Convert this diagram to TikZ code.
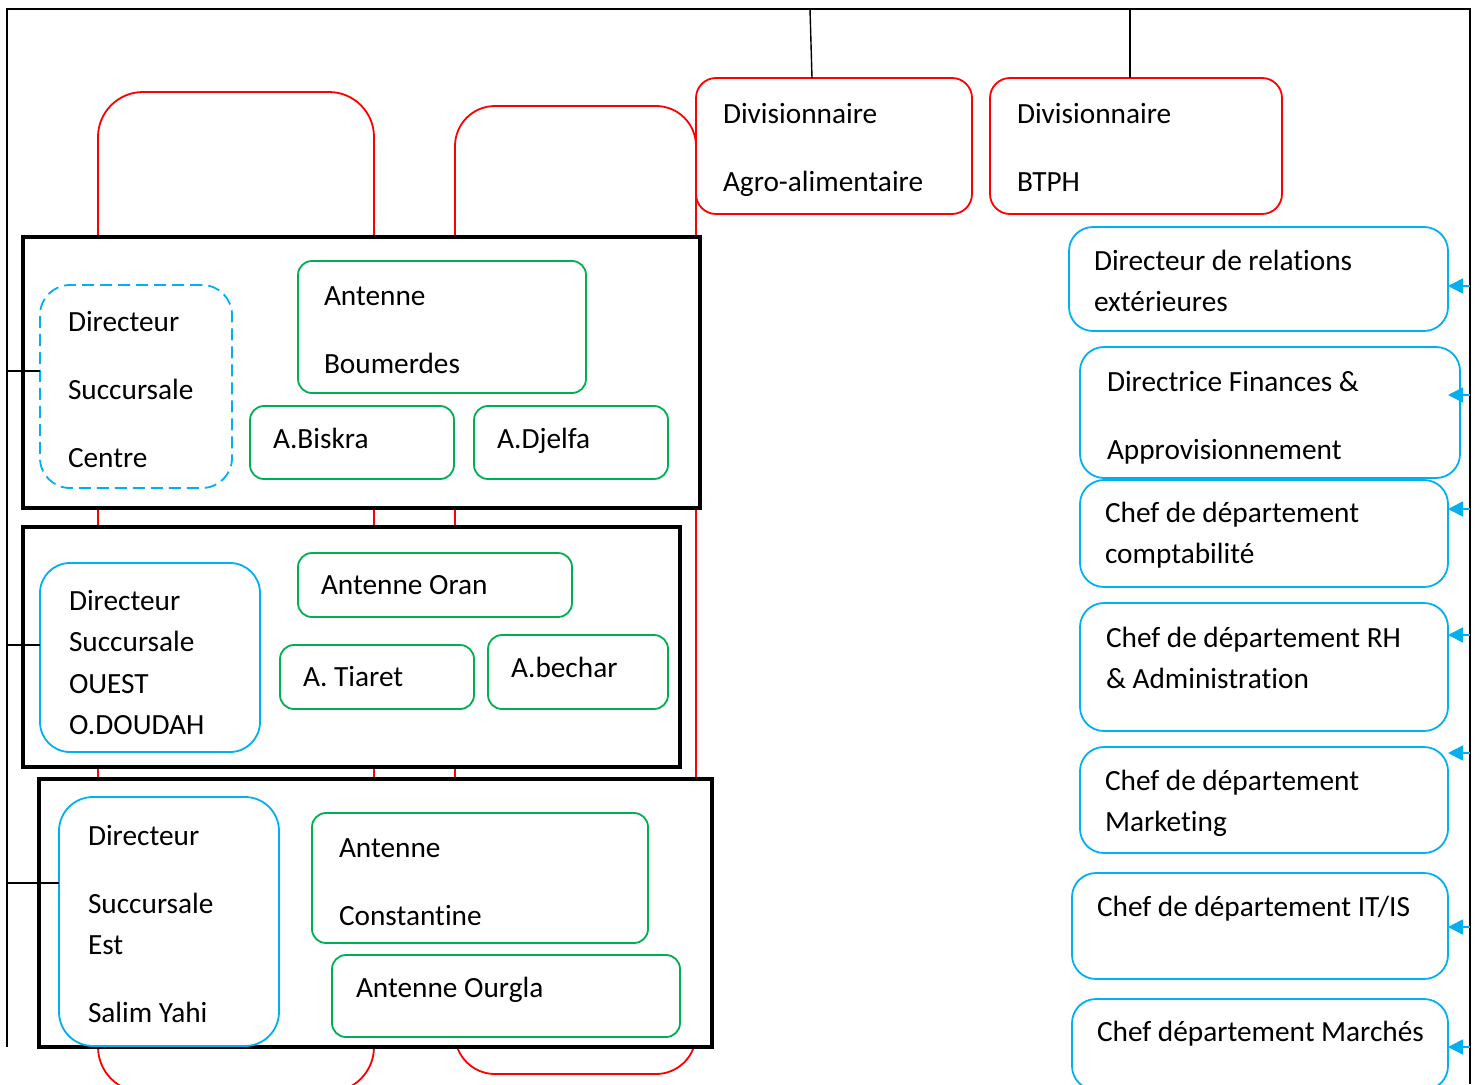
\documentclass[tikz,border=0pt]{standalone}
\usepackage{fontspec}
\setmainfont{Carlito}[Ligatures=NoCommon]
\usetikzlibrary{arrows.meta}
\definecolor{redc}{HTML}{FF0000}
\definecolor{grnc}{HTML}{00B050}
\definecolor{cync}{HTML}{00B0F0}
% box from top-left (#2,#3) to bottom-right (#4,#5)
\newcommand\orgbox[6]{\node[#1, anchor=north west, minimum width={#4-#2}, minimum height={#5-#3}] (#6) at (#2,#3) {};}
\newcommand\orgtxt[4]{\node[lbl] (#1) at (#2,#3) {#4};}
\begin{document}
\begin{tikzpicture}[x=1pt,y=-1pt,
  every node/.style={inner sep=0pt, outer sep=0pt},
  redbox/.style={draw=redc, line width=1.8pt, rounded corners=20pt, fill=white},
  redloop/.style={draw=redc, line width=1.8pt, rounded corners=45pt},
  frame/.style={draw=black, line width=3.6pt, fill=white},
  grnbox/.style={draw=grnc, line width=1.8pt, rounded corners=14pt},
  cynbox/.style={draw=cync, line width=1.8pt, rounded corners=24pt},
  dashbox/.style={draw=cync, line width=1.8pt, dash pattern=on 12pt off 6pt, rounded corners=30pt},
  lbl/.style={anchor=base west, font=\fontsize{29.3}{35}\selectfont},
  link/.style={draw=black, line width=1.4pt},
  feed/.style={draw=cync, line width=1.8pt, -{Triangle[length=15pt,width=15pt]}},
]
\useasboundingbox (0,0) rectangle (1480,1084);

% red loops running behind the regional frames
\orgbox{redloop}{98}{92}{374}{1092}{loopA}
\orgbox{redloop, rounded corners=40pt}{455}{106}{696}{1074}{loopB}

% top divisions
\orgbox{redbox}{696}{78}{972}{214}{divA}
\orgbox{redbox}{990}{78}{1282}{214}{divB}
\orgtxt{divAa}{723}{123}{Divisionnaire}
\orgtxt{divAb}{723}{191}{Agro-alimentaire}
\orgtxt{divBa}{1017}{123}{Divisionnaire}
\orgtxt{divBb}{1017}{191}{BTPH}

% regional frames
\orgbox{frame}{23}{237}{700}{508}{frameC}
\orgbox{frame}{23}{527}{680}{767}{frameO}
\orgbox{frame}{39}{779}{712}{1047}{frameE}

% centre
\orgbox{dashbox}{40}{285}{232}{488}{dirC}
\orgtxt{dirCa}{68}{331}{Directeur}
\orgtxt{dirCb}{68}{399}{Succursale}
\orgtxt{dirCc}{68}{467}{Centre}
\orgbox{grnbox}{298}{261}{586}{393}{antB}
\orgtxt{antBa}{324}{305}{Antenne}
\orgtxt{antBb}{324}{373}{Boumerdes}
\orgbox{grnbox}{250}{406}{454}{479}{bisk}
\orgtxt{biskt}{273}{448}{A.Biskra}
\orgbox{grnbox}{474}{406}{668}{479}{djel}
\orgtxt{djelt}{497}{448}{A.Djelfa}

% ouest
\orgbox{cynbox, rounded corners=30pt}{40}{563}{260}{752}{dirO}
\orgtxt{dirOa}{69}{610}{Directeur}
\orgtxt{dirOb}{69}{651}{Succursale}
\orgtxt{dirOc}{69}{693}{OUEST}
\orgtxt{dirOd}{69}{734}{O.DOUDAH}
\orgbox{grnbox}{298}{553}{572}{617}{oran}
\orgtxt{orant}{321}{594}{Antenne Oran}
\orgbox{grnbox}{280}{645}{474}{709}{tiar}
\orgtxt{tiart}{303}{686}{A. Tiaret}
\orgbox{grnbox}{488}{635}{668}{709}{bech}
\orgtxt{becht}{511}{677}{A.bechar}

% est
\orgbox{cynbox, rounded corners=34pt}{59}{797}{279}{1046}{dirE}
\orgtxt{dirEa}{88}{845}{Directeur}
\orgtxt{dirEb}{88}{913}{Succursale}
\orgtxt{dirEc}{88}{954}{Est}
\orgtxt{dirEd}{88}{1022}{Salim Yahi}
\orgbox{grnbox}{312}{813}{648}{943}{cons}
\orgtxt{consa}{339}{857}{Antenne}
\orgtxt{consb}{339}{925}{Constantine}
\orgbox{grnbox}{332}{955}{680}{1037}{ourg}
\orgtxt{ourgt}{356}{997}{Antenne Ourgla}

% staff departments
\orgbox{cynbox}{1069}{227}{1448}{331}{rA}
\orgtxt{rAa}{1094}{270}{Directeur de relations}
\orgtxt{rAb}{1094}{311}{extérieures}
\orgbox{cynbox}{1080}{347}{1460}{478}{rB}
\orgtxt{rBa}{1107}{391}{Directrice Finances \&}
\orgtxt{rBb}{1107}{459}{Approvisionnement}
\orgbox{cynbox}{1080}{480}{1448}{587}{rC}
\orgtxt{rCa}{1105}{522}{Chef de département}
\orgtxt{rCb}{1105}{563}{comptabilité}
\orgbox{cynbox}{1080}{603}{1448}{731}{rD}
\orgtxt{rDa}{1106}{647}{Chef de département RH}
\orgtxt{rDb}{1106}{688}{\& Administration}
\orgbox{cynbox}{1080}{747}{1448}{853}{rE}
\orgtxt{rEa}{1105}{790}{Chef de département}
\orgtxt{rEb}{1105}{831}{Marketing}
\orgbox{cynbox}{1072}{873}{1448}{979}{rF}
\orgtxt{rFa}{1097}{916}{Chef de département IT/IS}
\orgbox{cynbox}{1072}{999}{1448}{1090}{rG}
\orgtxt{rGa}{1097}{1041}{Chef département Marchés}

% hierarchy lines
\coordinate (lowL) at (7,1047);
\coordinate (topL) at (7,9);
\coordinate (topR) at (1470,9);
\coordinate (lowR) at (1470,1084);
\draw[link] (lowL) -- (topL) -- (topR) -- (lowR);
\coordinate (tA) at (810,9);
\coordinate (tB) at (1130,9);
\draw[link] (tA) -- ([xshift=116pt]divA.north west);
\draw[link] (tB) -- (tB |- divB.north);
\coordinate (sC) at (7,371);
\coordinate (sO) at (7,645);
\coordinate (sE) at (7,883);
\draw[link] (sC) -- (sC -| dirC.west);
\draw[link] (sO) -- (sO -| dirO.west);
\draw[link] (sE) -- (sE -| dirE.west);

% feeds to staff departments
\foreach \n/\yy in {A/286, B/395, C/509, D/635, E/753, F/927, G/1047}{
  \coordinate (f\n) at (1470,\yy);
  \draw[feed] (f\n) -- (f\n -| rA.east);
}
\end{tikzpicture}
\end{document}
